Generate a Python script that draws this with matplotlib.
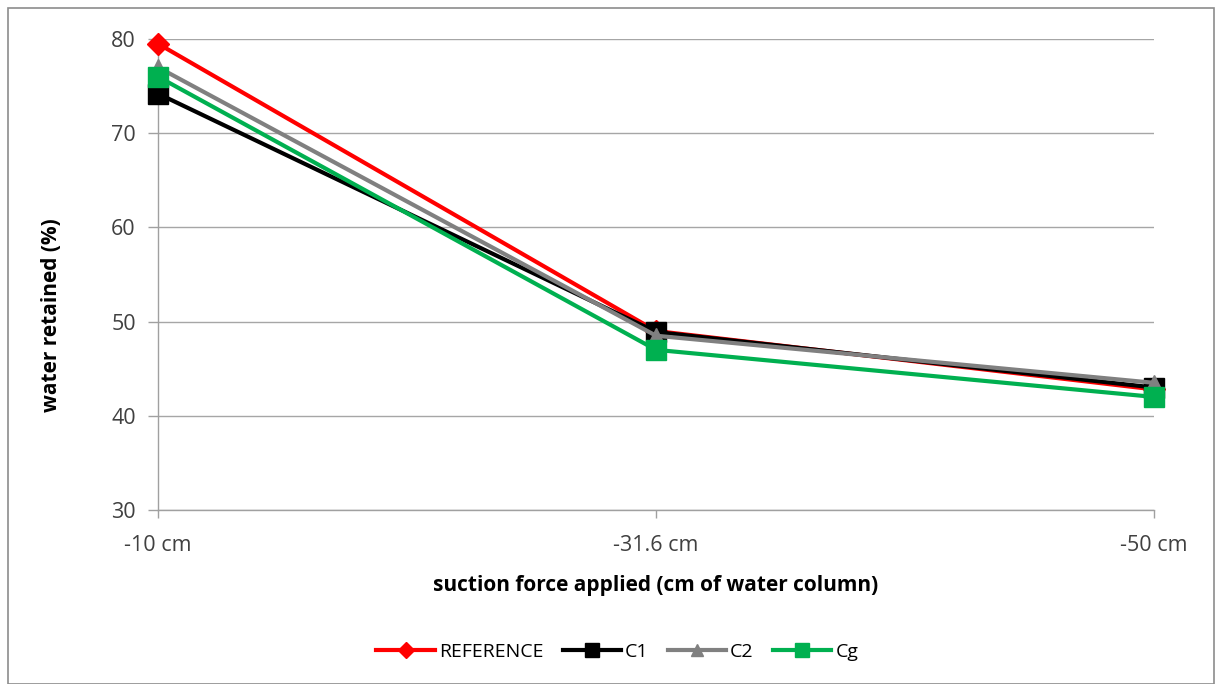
import matplotlib.pyplot as plt
from matplotlib.patches import Rectangle

plt.rcParams['font.family'] = ['Open Sans', 'DejaVu Sans']

# suction levels and water retained (%) per sample
categories = ['-10 cm', '-31.6 cm', '-50 cm']
reference = [79.5, 49.0, 42.8]
c1 = [74.2, 48.9, 43.0]
c2 = [77.0, 48.5, 43.5]
cg = [76.0, 47.0, 42.0]

series = [
    ('REFERENCE', reference, '#ff0000', 'D', 11),
    ('C1', c1, '#000000', 's', 14),
    ('C2', c2, '#808080', '^', 12),
    ('Cg', cg, '#00b050', 's', 14),
]

fig = plt.figure(figsize=(12.2, 6.84), dpi=100)
ax = fig.add_axes([0.1295, 0.2544, 0.8165, 0.6886])

x = list(range(len(categories)))
for name, vals, col, mk, ms in series:
    ax.plot(x, vals, color=col, lw=3, marker=mk, markersize=ms,
            markeredgecolor=col, label=name, clip_on=False, zorder=3)

ax.set_xlim(0, 2)
ax.set_ylim(30, 80)
ax.set_yticks(range(30, 81, 10))
ax.set_xticks(x)
ax.set_xticklabels(categories)
ax.yaxis.grid(True, color='#a6a6a6', lw=1)
ax.set_axisbelow(True)

for s in ['top', 'right']:
    ax.spines[s].set_visible(False)
for s in ['left', 'bottom']:
    ax.spines[s].set_color('#a0a0a0')
    ax.spines[s].set_linewidth(1)
ax.tick_params(axis='both', colors='#a0a0a0', width=1,
               labelcolor='#404040', labelsize=15.5)
ax.tick_params(axis='y', length=7, pad=9)
ax.tick_params(axis='x', length=6, pad=12)

ax.set_xlabel('suction force applied (cm of water column)', fontsize=15,
              fontweight='bold', labelpad=14)
ax.set_ylabel('water retained (%)', fontsize=15, fontweight='bold')
ax.yaxis.set_label_coords(-0.096, 0.414)

fig.legend(loc='center', bbox_to_anchor=(0.506, 0.047), ncol=4, frameon=False,
           fontsize=14, handlelength=3.0, columnspacing=1.0, handletextpad=0.2,
           markerscale=0.75)

# chart frame
fig.patches.append(Rectangle((8 / 1220, 0), 1206 / 1220, 676 / 684,
                             transform=fig.transFigure, fill=False,
                             edgecolor='#8c8c8c', lw=1.2))

fig.savefig('out.png', dpi=100)
